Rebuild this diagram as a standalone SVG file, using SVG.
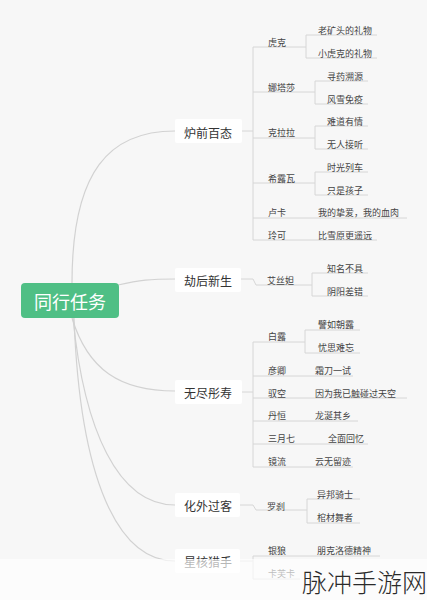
<svg xmlns="http://www.w3.org/2000/svg" width="427" height="600" viewBox="0 0 427 600">
<style>
text{font-family:"Noto Sans CJK SC","Noto Sans",sans-serif;dominant-baseline:central}
.c{fill:none;stroke:#d2d2d2;stroke-width:1.2}
.u{fill:none;stroke:#d6d6d6;stroke-width:1}
.b1{fill:#ffffff}
.t1{font-size:12px;fill:#333;text-anchor:middle}
.t2{font-size:9px;fill:#444}
.root{fill:#4fbf85}
.rt{font-size:18px;fill:#fff;text-anchor:middle}
</style>
<rect width="427" height="600" fill="#f7f7f7"/>
<g id="connectors">
<path class="c" d="M72,283 C72,170 110,131 175,131"/>
<path class="c" d="M118,285 C140,280 150,279 175,279"/>
<path class="c" d="M72,318 C88,370 120,391 175,391"/>
<path class="c" d="M73,318 C84,430 118,505 175,505"/>
<path class="c" d="M74,318 C80,480 118,561 175,561"/>
<path class="u" d="M242,131 H253 M253,47 V240"/>
<path class="u" d="M253,47 H306 M306,35 V58 M306,35 H377 M306,58 H377"/>
<path class="u" d="M253,92 H315 M315,81 V104 M315,81 H368 M315,104 H368"/>
<path class="u" d="M253,138 H315 M315,126 V149 M315,126 H368 M315,149 H368"/>
<path class="u" d="M253,183 H315 M315,172 V195 M315,172 H368 M315,195 H368"/>
<path class="u" d="M253,218 H407"/>
<path class="u" d="M253,240 H377"/>
<path class="u" d="M241,279 H253 L256,285 H312 M312,273 V296 M312,273 H368 M312,296 H368"/>
<path class="u" d="M242,392 H253 M253,342 V467"/>
<path class="u" d="M253,342 H305 M305,330 V353 M305,330 H360 M305,353 H360"/>
<path class="u" d="M253,376 H353"/>
<path class="u" d="M253,398 H407"/>
<path class="u" d="M253,421 H358"/>
<path class="u" d="M253,444 H368"/>
<path class="u" d="M253,467 H353"/>
<path class="u" d="M240,505 H253 L256,510 H307 M307,499 V523 M307,499 H360 M307,523 H360"/>
<path class="u" d="M240,561 H253 M253,556 V579 M253,556 H380 M253,579 H300"/>
</g>
<g id="root"><rect class="root" x="21" y="283" width="98" height="35" rx="4"/><text class="rt" x="70" y="301">同行任务</text></g>
<g id="n-luqian"><rect class="b1" x="175" y="119" width="67" height="24" rx="2"/><text class="t1" x="208" y="132">炉前百态</text></g>
<g id="n-jiehou"><rect class="b1" x="175" y="268" width="66" height="24" rx="2"/><text class="t1" x="208" y="280">劫后新生</text></g>
<g id="n-wujin"><rect class="b1" x="175" y="380" width="67" height="24" rx="2"/><text class="t1" x="208" y="392">无尽彤寿</text></g>
<g id="n-huawai"><rect class="b1" x="175" y="493" width="65" height="24" rx="2"/><text class="t1" x="208" y="505">化外过客</text></g>
<g id="n-xinghe"><rect class="b1" x="175" y="549" width="65" height="24" rx="2"/><text class="t1" x="208" y="561">星核猎手</text></g>
<g id="n-huke"><text class="t2" x="268" y="42">虎克</text></g>
<g id="n-huke-1"><text class="t2" x="318" y="30">老矿头的礼物</text></g>
<g id="n-huke-2"><text class="t2" x="318" y="53">小虎克的礼物</text></g>
<g id="n-natasha"><text class="t2" x="268" y="87">娜塔莎</text></g>
<g id="n-natasha-1"><text class="t2" x="327" y="76">寻药溯源</text></g>
<g id="n-natasha-2"><text class="t2" x="327" y="99">风雪免疫</text></g>
<g id="n-clara"><text class="t2" x="268" y="132">克拉拉</text></g>
<g id="n-clara-1"><text class="t2" x="327" y="121">难道有情</text></g>
<g id="n-clara-2"><text class="t2" x="327" y="144">无人接听</text></g>
<g id="n-serval"><text class="t2" x="268" y="178">希露瓦</text></g>
<g id="n-serval-1"><text class="t2" x="327" y="167">时光列车</text></g>
<g id="n-serval-2"><text class="t2" x="327" y="190">只是孩子</text></g>
<g id="n-luka"><text class="t2" x="268" y="212">卢卡</text></g>
<g id="n-luka-1"><text class="t2" x="318" y="212">我的挚爱，我的血肉</text></g>
<g id="n-lynx"><text class="t2" x="268" y="235">玲可</text></g>
<g id="n-lynx-1"><text class="t2" x="318" y="235">比雪原更遥远</text></g>
<g id="n-asta"><text class="t2" x="267" y="280">艾丝妲</text></g>
<g id="n-asta-1"><text class="t2" x="327" y="268">知名不具</text></g>
<g id="n-asta-2"><text class="t2" x="327" y="291">阴阳差错</text></g>
<g id="n-bailu"><text class="t2" x="268" y="336">白露</text></g>
<g id="n-bailu-1"><text class="t2" x="318" y="324">譬如朝露</text></g>
<g id="n-bailu-2"><text class="t2" x="318" y="347">忧思难忘</text></g>
<g id="n-yanqing"><text class="t2" x="268" y="370">彦卿</text></g>
<g id="n-yanqing-1"><text class="t2" x="315" y="370">霜刀一试</text></g>
<g id="n-yukong"><text class="t2" x="268" y="393">驭空</text></g>
<g id="n-yukong-1"><text class="t2" x="315" y="393">因为我已触碰过天空</text></g>
<g id="n-danheng"><text class="t2" x="268" y="415">丹恒</text></g>
<g id="n-danheng-1"><text class="t2" x="315" y="415">龙涎其乡</text></g>
<g id="n-march"><text class="t2" x="268" y="438">三月七</text></g>
<g id="n-march-1"><text class="t2" x="328" y="438">全面回忆</text></g>
<g id="n-jingliu"><text class="t2" x="268" y="461">镜流</text></g>
<g id="n-jingliu-1"><text class="t2" x="315" y="461">云无留迹</text></g>
<g id="n-luocha"><text class="t2" x="267" y="506">罗刹</text></g>
<g id="n-luocha-1"><text class="t2" x="317" y="494">异邦骑士</text></g>
<g id="n-luocha-2"><text class="t2" x="317" y="517">棺材舞者</text></g>
<g id="n-silverwolf"><text class="t2" x="268" y="550">银狼</text></g>
<g id="n-silverwolf-1"><text class="t2" x="317" y="550">朋克洛德精神</text></g>
<g id="n-kafka"><text class="t2" x="268" y="573">卡芙卡</text></g>
<rect x="0" y="559" width="427" height="41" fill="#ffffff" opacity="0.65"/>
<text x="302" y="581" style="font-size:25px;font-weight:300;fill:#2a2a2a">脉冲手游网</text>
</svg>
